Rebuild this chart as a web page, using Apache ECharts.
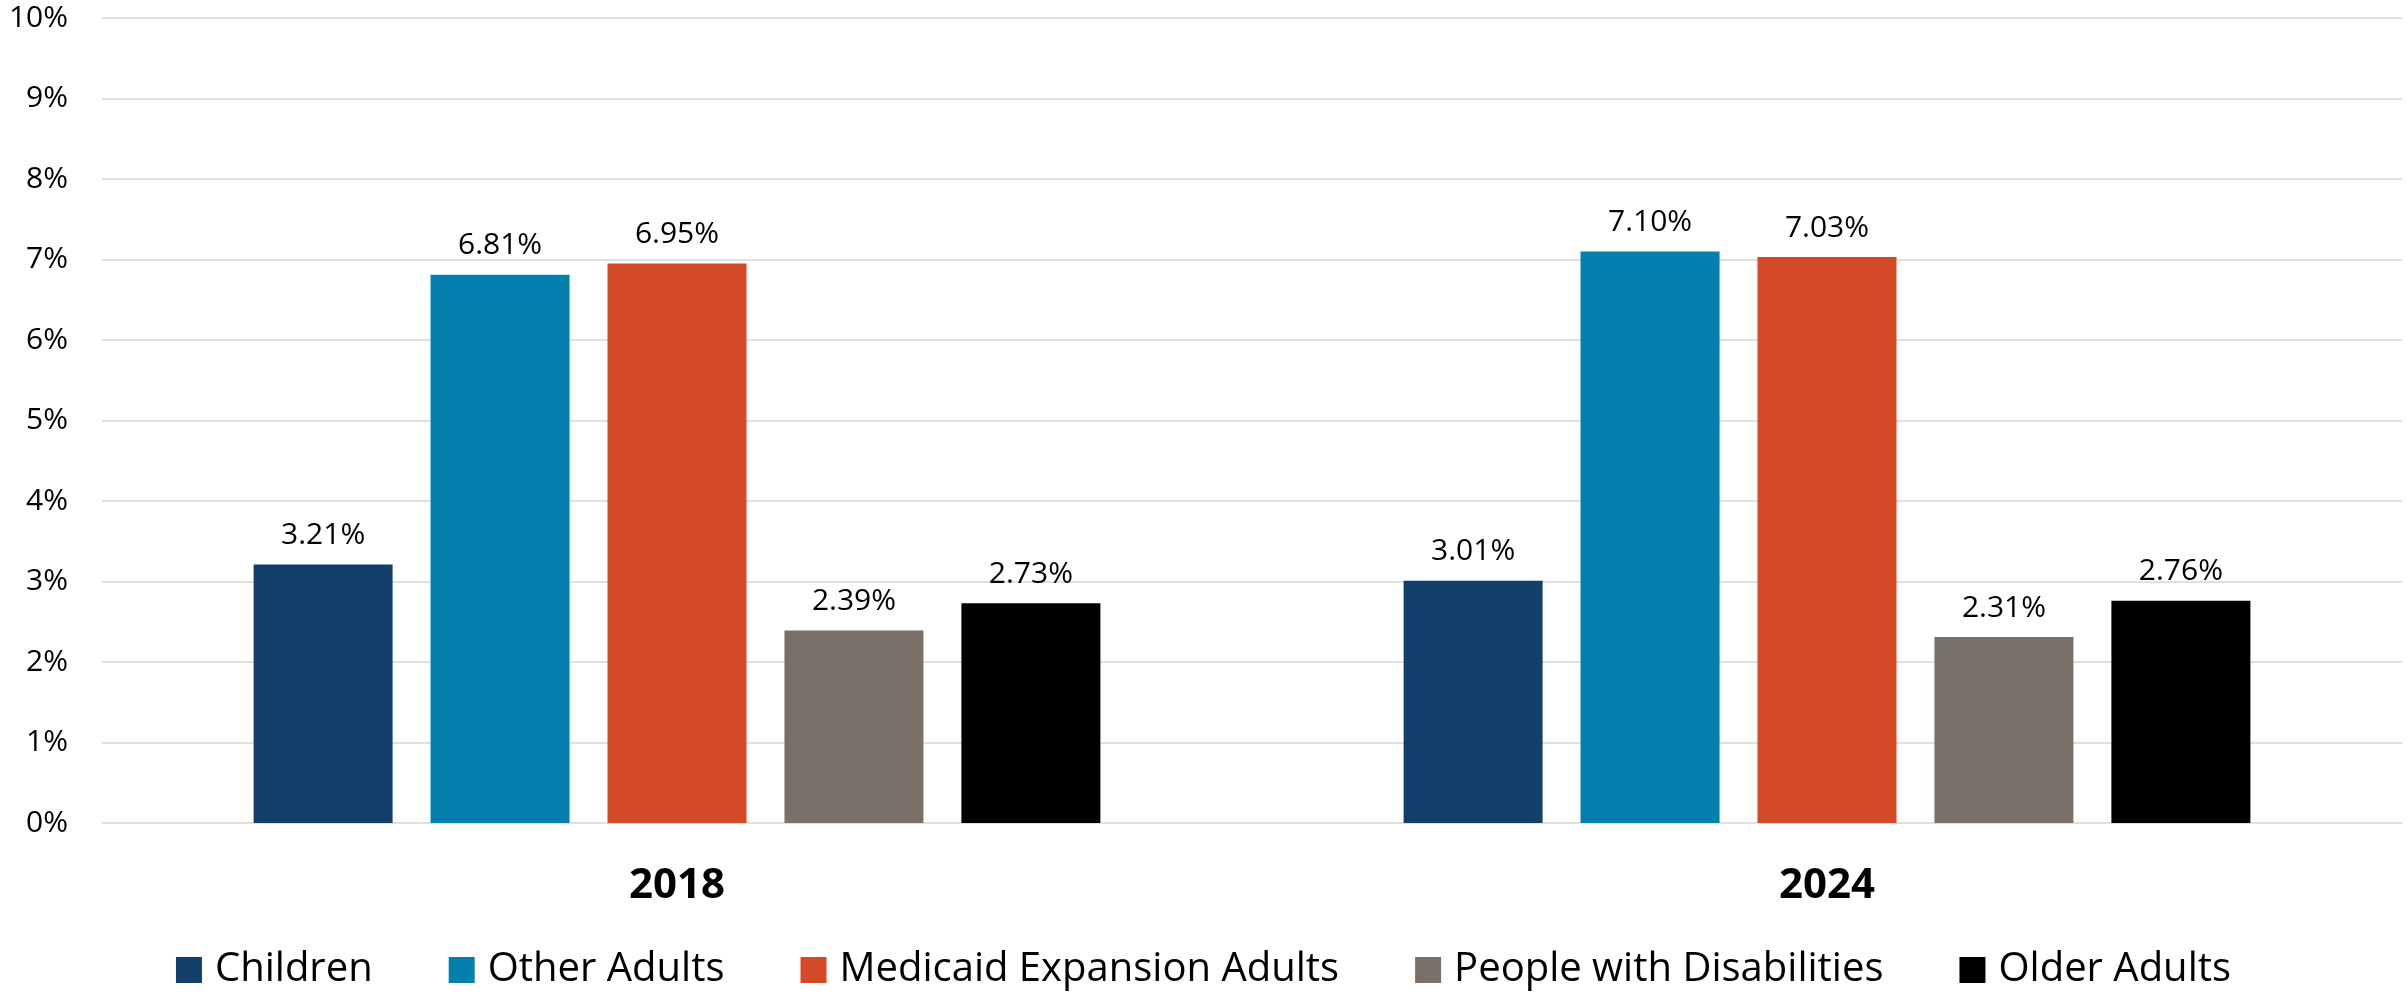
<!DOCTYPE html>
<html>
<head>
<meta charset="utf-8">
<script src="https://cdn.jsdelivr.net/npm/echarts@6/dist/echarts.min.js"></script>
<style>
html,body{margin:0;padding:0;background:#fff;}
#chart{width:2407px;height:994px;}
</style>
</head>
<body>
<div id="chart"></div>
<script>
const categories = ['2018', '2024'];
const seriesNames = ['Children', 'Other Adults', 'Medicaid Expansion Adults', 'People with Disabilities', 'Older Adults'];
const children = [3.21, 3.01];
const otherAdults = [6.81, 7.10];
const medicaidExpansion = [6.95, 7.03];
const disabilities = [2.39, 2.31];
const olderAdults = [2.73, 2.76];
const yTicks = [0, 1, 2, 3, 4, 5, 6, 7, 8, 9, 10];
const colors = ['#12406B', '#0380AE', '#D44A28', '#7A7067', '#000000'];

const seriesData = [children, otherAdults, medicaidExpansion, disabilities, olderAdults];
const FONT = '"Open Sans", "Noto Sans", sans-serif';

const chart = echarts.init(document.getElementById('chart'), null, {renderer: 'canvas'});
chart.setOption({
  backgroundColor: '#ffffff',
  animation: false,
  color: colors,
  textStyle: {fontFamily: FONT},
  grid: {left: 102, right: 5, top: 18, bottom: 171, containLabel: false},
  legend: {
    data: seriesNames,
    left: 'center',
    top: 945,
    itemWidth: 26,
    itemHeight: 26,
    itemGap: 76,
    icon: 'rect',
    textStyle: {fontFamily: FONT, fontSize: 40, color: '#000', padding: [0, 0, 0, 8]}
  },
  xAxis: {
    type: 'category',
    data: categories,
    axisLine: {show: false},
    axisTick: {show: false},
    axisLabel: {fontFamily: FONT, fontSize: 42, fontWeight: 'bold', color: '#000', margin: 42}
  },
  yAxis: {
    type: 'value',
    min: yTicks[0],
    max: yTicks[yTicks.length - 1],
    interval: 1,
    axisLine: {show: false},
    axisTick: {show: false},
    axisLabel: {fontFamily: FONT, fontSize: 30, color: '#000', margin: 34, formatter: v => v + '%'},
    splitLine: {show: true, lineStyle: {color: '#E3E0DB', width: 2}}
  },
  series: seriesNames.map((name, i) => ({
    name: name,
    type: 'bar',
    data: seriesData[i],
    barWidth: 139,
    barGap: '27.3%',
    itemStyle: {color: colors[i]},
    label: {
      show: true,
      position: 'top',
      distance: 14,
      fontFamily: FONT,
      fontSize: 30,
      color: '#000',
      formatter: p => p.value.toFixed(2) + '%'
    }
  }))
});
</script>
</body>
</html>
